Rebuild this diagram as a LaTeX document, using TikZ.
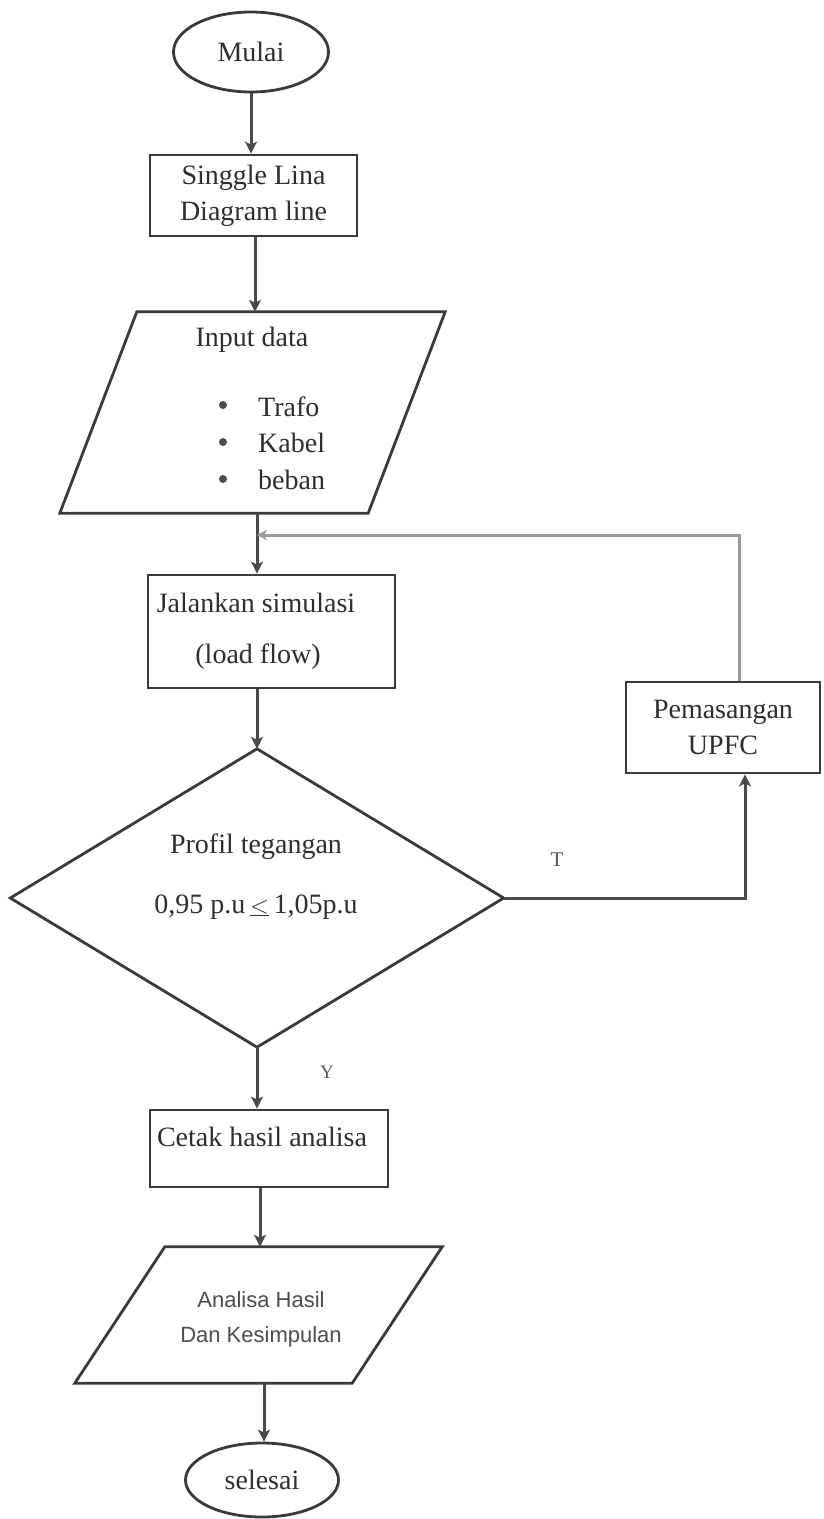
\documentclass[tikz,border=0pt]{standalone}
\usepackage{fontspec}
\setmainfont{Liberation Serif}
\setsansfont{Liberation Sans}
\usetikzlibrary{shapes.geometric,arrows.meta,calc}
\definecolor{edge}{HTML}{3A3A3A}
\definecolor{conn}{HTML}{4A4A4A}
\definecolor{fbc}{HTML}{9A9A9A}
\definecolor{txt}{HTML}{2E2E2E}
\begin{document}
\begin{tikzpicture}[x=1pt,y=-1pt,
  shapebox/.style={draw=edge,line width=2.8pt,rectangle,inner sep=0pt,text=txt,font=\fontsize{28}{36}\selectfont,align=center},
  term/.style={draw=edge,line width=2.8pt,ellipse,inner sep=0pt,text=txt,font=\fontsize{28}{34}\selectfont},
  ghost/.style={rectangle,inner sep=0pt,draw=none},
  outline/.style={draw=edge,line width=2.8pt,line join=miter},
  lbl/.style={text=txt,font=\fontsize{28}{34}\selectfont,inner sep=0pt},
  bul/.style={circle,fill=txt!85,inner sep=0pt,minimum size=8pt},
  slbl/.style={text=txt!85,font=\sffamily\fontsize{22}{28}\selectfont,inner sep=0pt},
  arr/.style={draw=conn,line width=3pt,-{Stealth[length=12pt,width=12pt,inset=3pt]}},
  fb/.style={draw=fbc,line width=3pt,-{Stealth[length=10pt,width=10pt,inset=3pt]}},
  line/.style={draw=conn,line width=3pt}
]
\useasboundingbox (0,0) rectangle (823,1519);
\fill[white] (0,0) rectangle (823,1519);

% nodes
\node[term,minimum width=155pt,minimum height=80pt] (mulai) at (251,52) {Mulai};
\node[shapebox,minimum width=207pt,minimum height=81pt] (box1) at (253.5,195.5) {Singgle Lina\\Diagram line};

\node[ghost,minimum width=385pt,minimum height=201pt] (inp) at (252.5,412.5) {};
\draw[outline] ($(inp.north west)+(77,0)$) -- (inp.north east) -- ($(inp.south east)+(-77,0)$) -- (inp.south west) -- cycle;
\node[lbl] (inpt) at (252,340) {Input data};
\node[bul] (b1) at (223,405) {};
\node[bul] (b2) at (223,442) {};
\node[bul] (b3) at (223,479) {};
\node[lbl,anchor=west] (t1) at (258,407) {Trafo};
\node[lbl,anchor=west] (t2) at (258,443) {Kabel};
\node[lbl,anchor=west] (t3) at (258,480) {beban};

\node[shapebox,minimum width=247pt,minimum height=113pt] (jal) at (271.5,631.5) {};
\node[lbl] (jal1) at (256,603) {Jalankan simulasi};
\node[lbl] (jal2) at (258,657) {(load flow)};

\node[ghost,minimum width=493pt,minimum height=298pt] (dec) at (257,898) {};
\draw[outline] (dec.north) -- (dec.east) -- (dec.south) -- (dec.west) -- cycle;
\node[lbl] (dec1) at (256,847) {Profil tegangan};
\node[lbl] (dec2) at (256,907) {0,95 p.u\,$\underline{<}$\,1,05p.u};

\node[shapebox,minimum width=194pt,minimum height=91pt] (upfc) at (723,727.5) {Pemasangan\\UPFC};

\node[shapebox,minimum width=238pt,minimum height=77pt] (cetak) at (269,1148.5) {};
\node[lbl] (cet1) at (262,1137) {Cetak hasil analisa};

\node[ghost,minimum width=367pt,minimum height=136pt] (ana) at (258.5,1315) {};
\draw[outline] ($(ana.north west)+(90,0)$) -- (ana.north east) -- ($(ana.south east)+(-90,0)$) -- (ana.south west) -- cycle;
\node[slbl] (ana1) at (261,1300) {Analisa Hasil};
\node[slbl] (ana2) at (261,1337) {Dan Kesimpulan};

\node[term,minimum width=153pt,minimum height=74pt] (sel) at (262,1480) {selesai};

\node[font=\fontsize{21}{24}\selectfont,text=txt!80,inner sep=0pt] (lt) at (557,860) {T};
\node[font=\fontsize{19}{22}\selectfont,text=txt!80,inner sep=0pt] (ly) at (327,1072) {Y};

% connectors
\coordinate (j) at (257,535);
\coordinate (rx) at (745,898);
\coordinate (ux) at (739,535);
\draw[arr] (mulai.south) -- (mulai.south |- box1.north);
\draw[arr] ([xshift=1.5pt]box1.south) -- ([xshift=1.5pt]box1.south |- inp.north);
\draw[arr] (j |- inp.south) -- (j |- jal.north);
\draw[fb] (ux |- upfc.north) -- (ux) -- (j);
\draw[arr] (jal.south -| dec.north) -- (dec.north);
\draw[arr] (dec.east) -- (rx) -- (rx |- upfc.south);
\draw[arr] (dec.south) -- (dec.south |- cetak.north);
\draw[arr] ([xshift=-9pt]cetak.south) -- ([xshift=-9pt]cetak.south |- ana.north);
\draw[arr] ([xshift=5.5pt]ana.south) -- ([xshift=5.5pt]ana.south |- sel.north);
\end{tikzpicture}
\end{document}
